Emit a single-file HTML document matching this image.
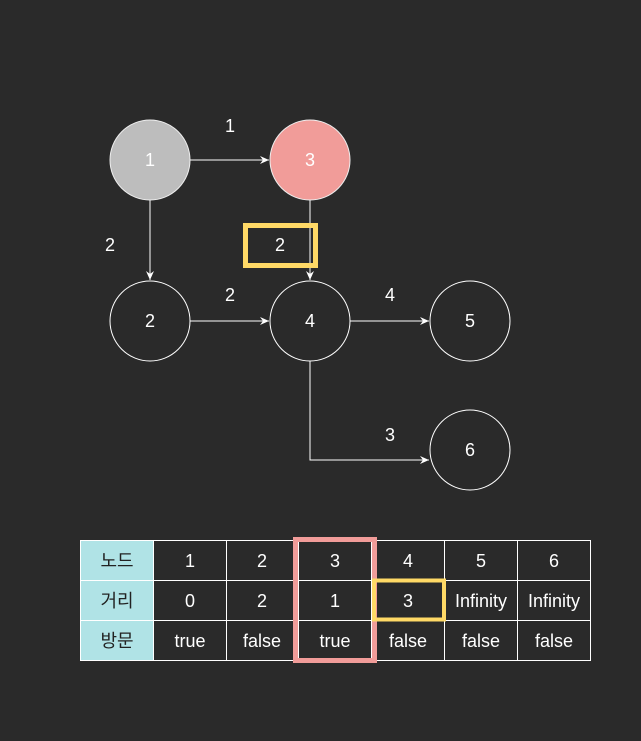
<!DOCTYPE html>
<html><head><meta charset="utf-8"><style>
body{margin:0;background:#2a2a2a;width:641px;height:741px;overflow:hidden}
svg{display:block;font-family:"Liberation Sans","Noto Sans CJK KR",sans-serif}
</style></head><body>
<svg width="641" height="741">
<rect width="641" height="741" fill="#2a2a2a"/>
<defs><marker id="ah" markerWidth="10" markerHeight="10" refX="9" refY="5" orient="auto" markerUnits="userSpaceOnUse"><path d="M0,1 L9,5 L0,9 L3,5 Z" fill="#fff"/></marker></defs>
<g stroke="#fff" stroke-width="1" fill="none">
<line x1="190" y1="160" x2="269" y2="160" marker-end="url(#ah)"/>
<line x1="150" y1="200" x2="150" y2="280" marker-end="url(#ah)"/>
<line x1="310" y1="200" x2="310" y2="280" marker-end="url(#ah)"/>
<line x1="190" y1="321" x2="269" y2="321" marker-end="url(#ah)"/>
<line x1="350" y1="321" x2="429" y2="321" marker-end="url(#ah)"/>
<polyline points="310,361 310,460 429,460" marker-end="url(#ah)"/>
</g>
<rect x="245.5" y="225.5" width="70" height="40" fill="none" stroke="#ffd966" stroke-width="5"/>
<g fill="#fff" font-size="18" text-anchor="middle">
<text x="230" y="132">1</text><text x="110" y="251">2</text><text x="280" y="251">2</text>
<text x="230" y="301">2</text><text x="390" y="301">4</text><text x="390" y="441">3</text>
</g>
<g stroke="#fff" stroke-width="1" font-size="18" text-anchor="middle">
<circle cx="150" cy="160" r="40" fill="#bdbdbd" stroke="#eee"/>
<circle cx="310" cy="160" r="40" fill="#f19c99" stroke="#eee"/>
<circle cx="150" cy="321" r="40" fill="none"/>
<circle cx="310" cy="321" r="40" fill="none"/>
<circle cx="470" cy="321" r="40" fill="none"/>
<circle cx="470" cy="450" r="40" fill="none"/>
<g stroke="none" fill="#fff">
<text x="150" y="166">1</text><text x="310" y="166">3</text><text x="150" y="327">2</text>
<text x="310" y="327">4</text><text x="470" y="327">5</text><text x="470" y="456">6</text>
</g></g>
<g font-size="18" text-anchor="middle">
<rect x="80.5" y="540.5" width="73" height="120" fill="#b0e3e6"/>
<g stroke="#fff" stroke-width="1" fill="none">
<rect x="80.5" y="540.5" width="510" height="120"/>
<line x1="80" y1="580.5" x2="591" y2="580.5"/><line x1="80" y1="620.5" x2="591" y2="620.5"/>
<line x1="153.5" y1="540" x2="153.5" y2="661"/><line x1="226.5" y1="540" x2="226.5" y2="661"/>
<line x1="298.5" y1="540" x2="298.5" y2="661"/><line x1="371.5" y1="540" x2="371.5" y2="661"/>
<line x1="444.5" y1="540" x2="444.5" y2="661"/><line x1="517.5" y1="540" x2="517.5" y2="661"/>
</g>
<g fill="#222"><text x="117" y="567">노드</text><text x="117" y="607">거리</text><text x="117" y="647">방문</text></g>
<g fill="#fff">
<text x="190" y="567">1</text><text x="262" y="567">2</text><text x="335" y="567">3</text><text x="408" y="567">4</text><text x="481" y="567">5</text><text x="554" y="567">6</text>
<text x="190" y="607">0</text><text x="262" y="607">2</text><text x="335" y="607">1</text><text x="408" y="607">3</text><text x="481" y="607">Infinity</text><text x="554" y="607">Infinity</text>
<text x="190" y="647">true</text><text x="262" y="647">false</text><text x="335" y="647">true</text><text x="408" y="647">false</text><text x="481" y="647">false</text><text x="554" y="647">false</text>
</g>
<rect x="295.5" y="539.5" width="79" height="121" fill="none" stroke="#f19c99" stroke-width="5"/>
<rect x="374" y="580.5" width="70" height="39" fill="none" stroke="#ffd966" stroke-width="4"/>
</g>
</svg>
</body></html>
